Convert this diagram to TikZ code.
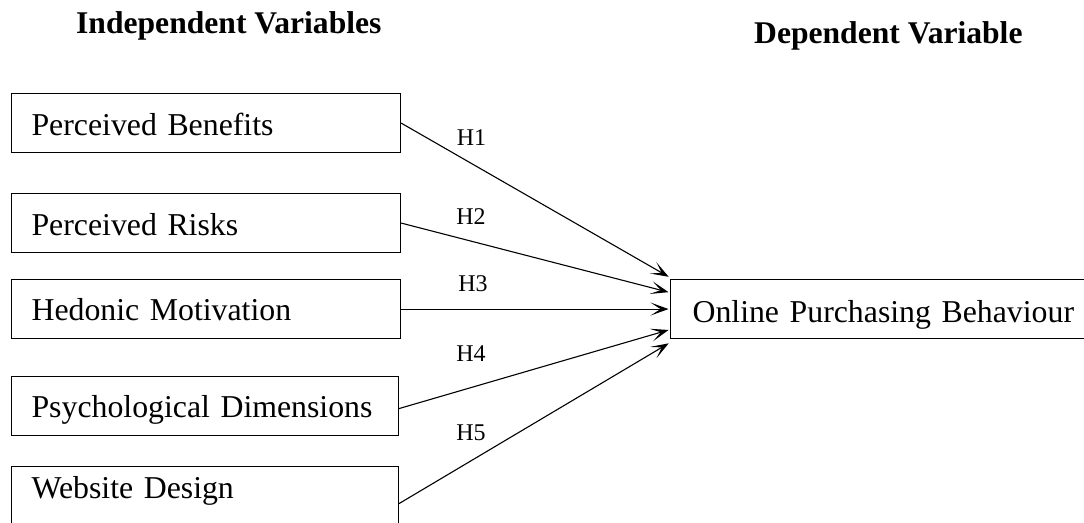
\documentclass[tikz,border=0pt]{standalone}
\usepackage{fontspec}
\setmainfont{Liberation Serif}
\usetikzlibrary{arrows.meta,calc}
\begin{document}
\begin{tikzpicture}[x=1pt,y=-1pt,
  varbox/.style={draw, line width=1.1pt, anchor=north west, inner xsep=20pt, inner ysep=0pt,
    text height=42pt, text depth=17pt, align=left, font=\fontsize{31.8}{38}\selectfont},
  hlabel/.style={anchor=base, inner sep=0pt, font=\fontsize{24}{28}\selectfont},
  title/.style={anchor=base west, inner sep=0pt, font=\bfseries\fontsize{31.6}{38}\selectfont},
  link/.style={line width=1.1pt, -{Stealth[length=18pt,width=13pt,inset=10pt]}, shorten >=1.5pt}
]
\clip (0,0) rectangle (1084,522);
\fill[white] (0,0) rectangle (1084,522);
\node[title] (tin) at (76,33) {Independent Variables};
\node[title] (tdep) at (754,43) {Dependent Variable};
\node[varbox, text width=349pt] (b1) at (11,93) {Perceived Benefits};
\node[varbox, text width=349pt] (b2) at (11,193) {Perceived Risks};
\node[varbox, text width=349pt, text height=41pt, text depth=18pt] (b3) at (11,279) {Hedonic Motivation};
\node[varbox, text width=347pt, text height=41pt, text depth=18pt] (b4) at (11,376) {Psychological Dimensions};
\node[varbox, text width=347pt, text height=32pt, text depth=27pt] (b5) at (11,466) {Website Design};
\node[varbox, inner xsep=22pt, text width=400pt, text height=43pt, text depth=16pt] (dep) at (670,279) {Online Purchasing Behaviour};
\draw[link] (b1.east) -- ([yshift=31.5pt]dep.west);
\draw[link] (b2.east) -- ([yshift=16.5pt]dep.west);
\draw[link] (b3.east) -- (dep.west);
\draw[link] ([yshift=-2.5pt]b4.east) -- ([yshift=-20.5pt]dep.west);
\draw[link] ([yshift=-7.5pt]b5.east) -- ([yshift=-33.5pt]dep.west);
\node[hlabel] (h1) at (471.5,145) {H1};
\node[hlabel] (h2) at (471,224) {H2};
\node[hlabel] (h3) at (473,291) {H3};
\node[hlabel] (h4) at (471,361) {H4};
\node[hlabel] (h5) at (471,440) {H5};
\end{tikzpicture}
\end{document}
